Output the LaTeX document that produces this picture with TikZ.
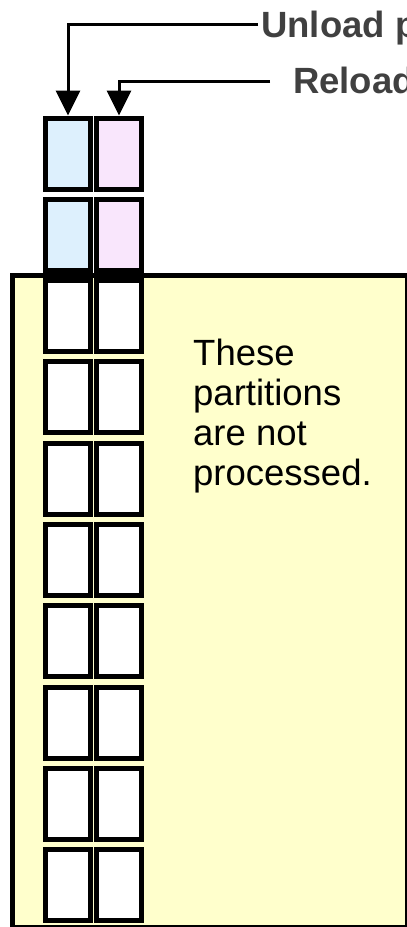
\documentclass[tikz,border=0pt]{standalone}
\usepackage{fontspec}
\setmainfont{Liberation Sans}
\usetikzlibrary{arrows.meta}
\definecolor{cellblue}{RGB}{221,240,253}
\definecolor{cellpink}{RGB}{249,230,252}
\definecolor{areayellow}{RGB}{255,255,204}
\definecolor{labelgray}{RGB}{64,64,64}
\tikzset{
  cell/.style={draw=black, line width=5pt, minimum width=45pt, minimum height=71pt, inner sep=0pt, fill=white},
  conn/.style={draw=black, line width=3pt, -{Triangle[width=24pt,length=25pt]}},
  lbl/.style={font=\fontsize{36.5}{40}\selectfont\bfseries, text=labelgray, inner sep=0pt, anchor=base west},
}
\begin{document}
\begin{tikzpicture}[x=1pt,y=-1pt]
\useasboundingbox (0,0) rectangle (407,927);
\clip (0,0) rectangle (407,927);
% unprocessed area
\draw[fill=areayellow, line width=5pt] (12.5,275.5) rectangle (407,927);
% cells
\foreach \i in {0,...,9}{
  \pgfmathsetmacro{\cy}{115.5+81.3*\i+38}
  \ifnum\i<2
    \node[cell, fill=cellblue] (a\i) at (68,\cy) {};
    \node[cell, fill=cellpink] (b\i) at (119,\cy) {};
  \else
    \node[cell] (a\i) at (68,\cy) {};
    \node[cell] (b\i) at (119,\cy) {};
  \fi
}
% labels
\node[lbl] (ulab) at (261,37) {Unload p};
\node[lbl] (rlab) at (293,93) {Reload};
\coordinate (ustart) at (258,24);
\coordinate (rstart) at (270,81);
\draw[conn] (ustart) -| (a0.north);
\draw[conn] (rstart) -| (b0.north);
% note
\node[anchor=north west, inner sep=0pt, align=left, font=\fontsize{36.5}{40}\selectfont] (note) at (193,338.5) {These\\partitions\\are not\\processed.};
\end{tikzpicture}
\end{document}
